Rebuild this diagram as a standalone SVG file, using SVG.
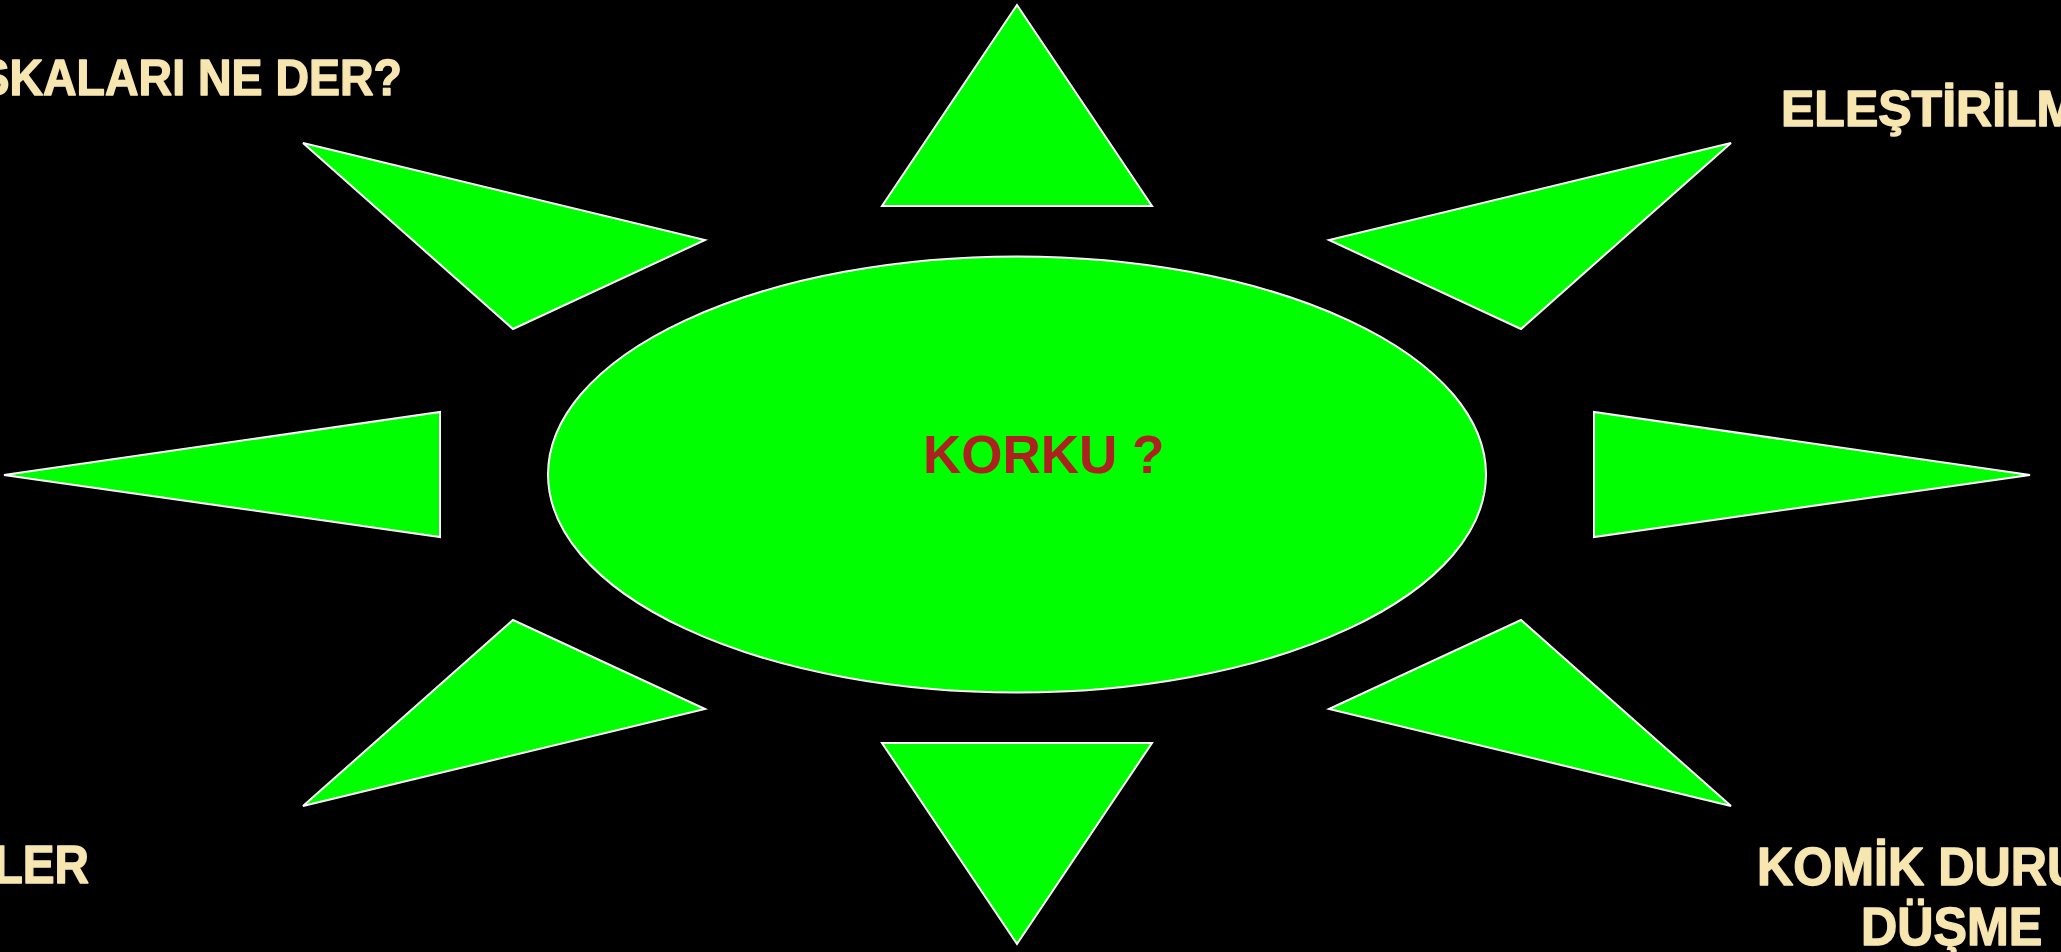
<svg xmlns="http://www.w3.org/2000/svg" width="2061" height="952" viewBox="0 0 2061 952">
<style>
.ray{fill:#00FF00;stroke:#FFFFFF;stroke-width:2;stroke-linejoin:miter}
.lbl{font-family:"Liberation Sans",Arial,sans-serif;font-weight:bold;fill:#F8E6B0;stroke:#F8E6B0;stroke-width:1.4;stroke-linejoin:round}
.core{font-family:"Liberation Sans",Arial,sans-serif;font-weight:bold;font-size:53px;fill:#AE2121}
</style>
<rect x="0" y="0" width="2061" height="952" fill="#000000"/>
<g id="rays">
<polygon class="ray" points="1017,5 1152,206 882,206"/>
<polygon class="ray" points="1017,944 1152,743 882,743"/>
<polygon class="ray" points="303,143 705,240 513,329"/>
<polygon class="ray" points="1731,143 1329,240 1521,329"/>
<polygon class="ray" points="4,475 440,412 440,537"/>
<polygon class="ray" points="2030,475 1594,412 1594,537"/>
<polygon class="ray" points="303,806 705,709 513,620"/>
<polygon class="ray" points="1731,806 1329,709 1521,620"/>
</g>
<g id="center">
<ellipse class="ray" cx="1017" cy="474.5" rx="469" ry="218"/>
<text class="core" x="923" y="473">KORKU ?</text>
</g>
<g id="label-top-left">
<text class="lbl" font-size="50" text-anchor="end" transform="translate(402,95) scale(0.93,1)">BAŞKALARI NE DER?</text>
</g>
<g id="label-top-right">
<text class="lbl" font-size="50" transform="translate(1781,126)">ELEŞTİRİLME</text>
</g>
<g id="label-bottom-left">
<text class="lbl" font-size="53" text-anchor="end" transform="translate(89,883) scale(0.9,1)">LER</text>
</g>
<g id="label-bottom-right">
<text class="lbl" font-size="54" transform="translate(1757,885) scale(0.93,1)">KOMİK DURUMLARA</text>
<text class="lbl" font-size="54" transform="translate(1861,945) scale(0.93,1)">DÜŞME</text>
</g>
</svg>
